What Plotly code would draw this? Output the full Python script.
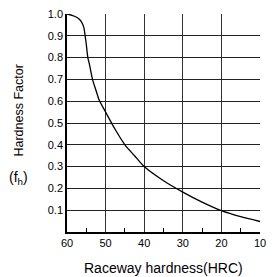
import plotly.graph_objects as go

hrc = [60, 58.5, 57.5, 56.5, 56.0, 55.6, 55.3, 55.0, 54.6, 54.2, 53.4, 52.5, 51.7, 50, 47.5, 45, 42.5, 40, 35, 30, 25, 20, 15, 10]
fh = [1.0, 0.993, 0.985, 0.97, 0.955, 0.935, 0.90, 0.86, 0.80, 0.77, 0.70, 0.65, 0.607, 0.55, 0.47, 0.40, 0.35, 0.30, 0.235, 0.183, 0.137, 0.098, 0.07, 0.048]

x_ticks = [60, 50, 40, 30, 20, 10]
y_ticks = [0.1, 0.2, 0.3, 0.4, 0.5, 0.6, 0.7, 0.8, 0.9, 1.0]
y_labels = ["0.1", "0.2", "0.3", "0.4", "0.5", "0.6", "0.7", "0.8", "0.9", "1.0"]

fig = go.Figure()
fig.add_trace(go.Scatter(x=hrc, y=fh, mode="lines", line=dict(color="black", width=1.3, shape="spline", smoothing=0.6), hoverinfo="skip"))

fig.update_layout(
    width=273, height=277,
    margin=dict(l=67, r=7, t=14, b=45),
    paper_bgcolor="white", plot_bgcolor="white",
    showlegend=False,
    font=dict(family="Liberation Sans, Arial, sans-serif", color="black"),
    xaxis=dict(
        range=[60, 10], tickvals=x_ticks, ticktext=[str(v) for v in x_ticks],
        showgrid=True, gridcolor="#333", gridwidth=1,
        showline=True, linecolor="black", linewidth=1.5,
        ticks="", zeroline=False, tickfont=dict(size=11), ticklabeloverflow="allow",
        minor=dict(ticks="inside", tickvals=[55, 45, 35, 25, 15], ticklen=4, tickcolor="black", showgrid=False),
    ),
    yaxis=dict(
        range=[0, 1.0], tickvals=y_ticks, ticktext=y_labels,
        showgrid=True, gridcolor="#222", gridwidth=1,
        showline=True, linecolor="black", linewidth=1.5,
        ticks="", zeroline=False, tickfont=dict(size=11), ticklabeloverflow="allow",
    ),
)

fig.add_annotation(text="Raceway hardness(HRC)", xref="paper", yref="paper", x=0.5, y=-0.165,
                   showarrow=False, font=dict(size=14), xanchor="center", yanchor="middle")
fig.add_annotation(text="Hardness Factor", xref="paper", yref="paper", x=-0.251, y=0.555,
                   textangle=-90, showarrow=False, font=dict(size=12.5), xanchor="center", yanchor="middle")
fig.add_annotation(text="(f<sub>h</sub>)", xref="paper", yref="paper", x=-0.251, y=0.248,
                   showarrow=False, font=dict(size=14), xanchor="center", yanchor="middle")

fig.write_html("out.html", config={"displayModeBar": False},
               post_script="document.body.style.margin='0';document.body.style.overflow='hidden';")
